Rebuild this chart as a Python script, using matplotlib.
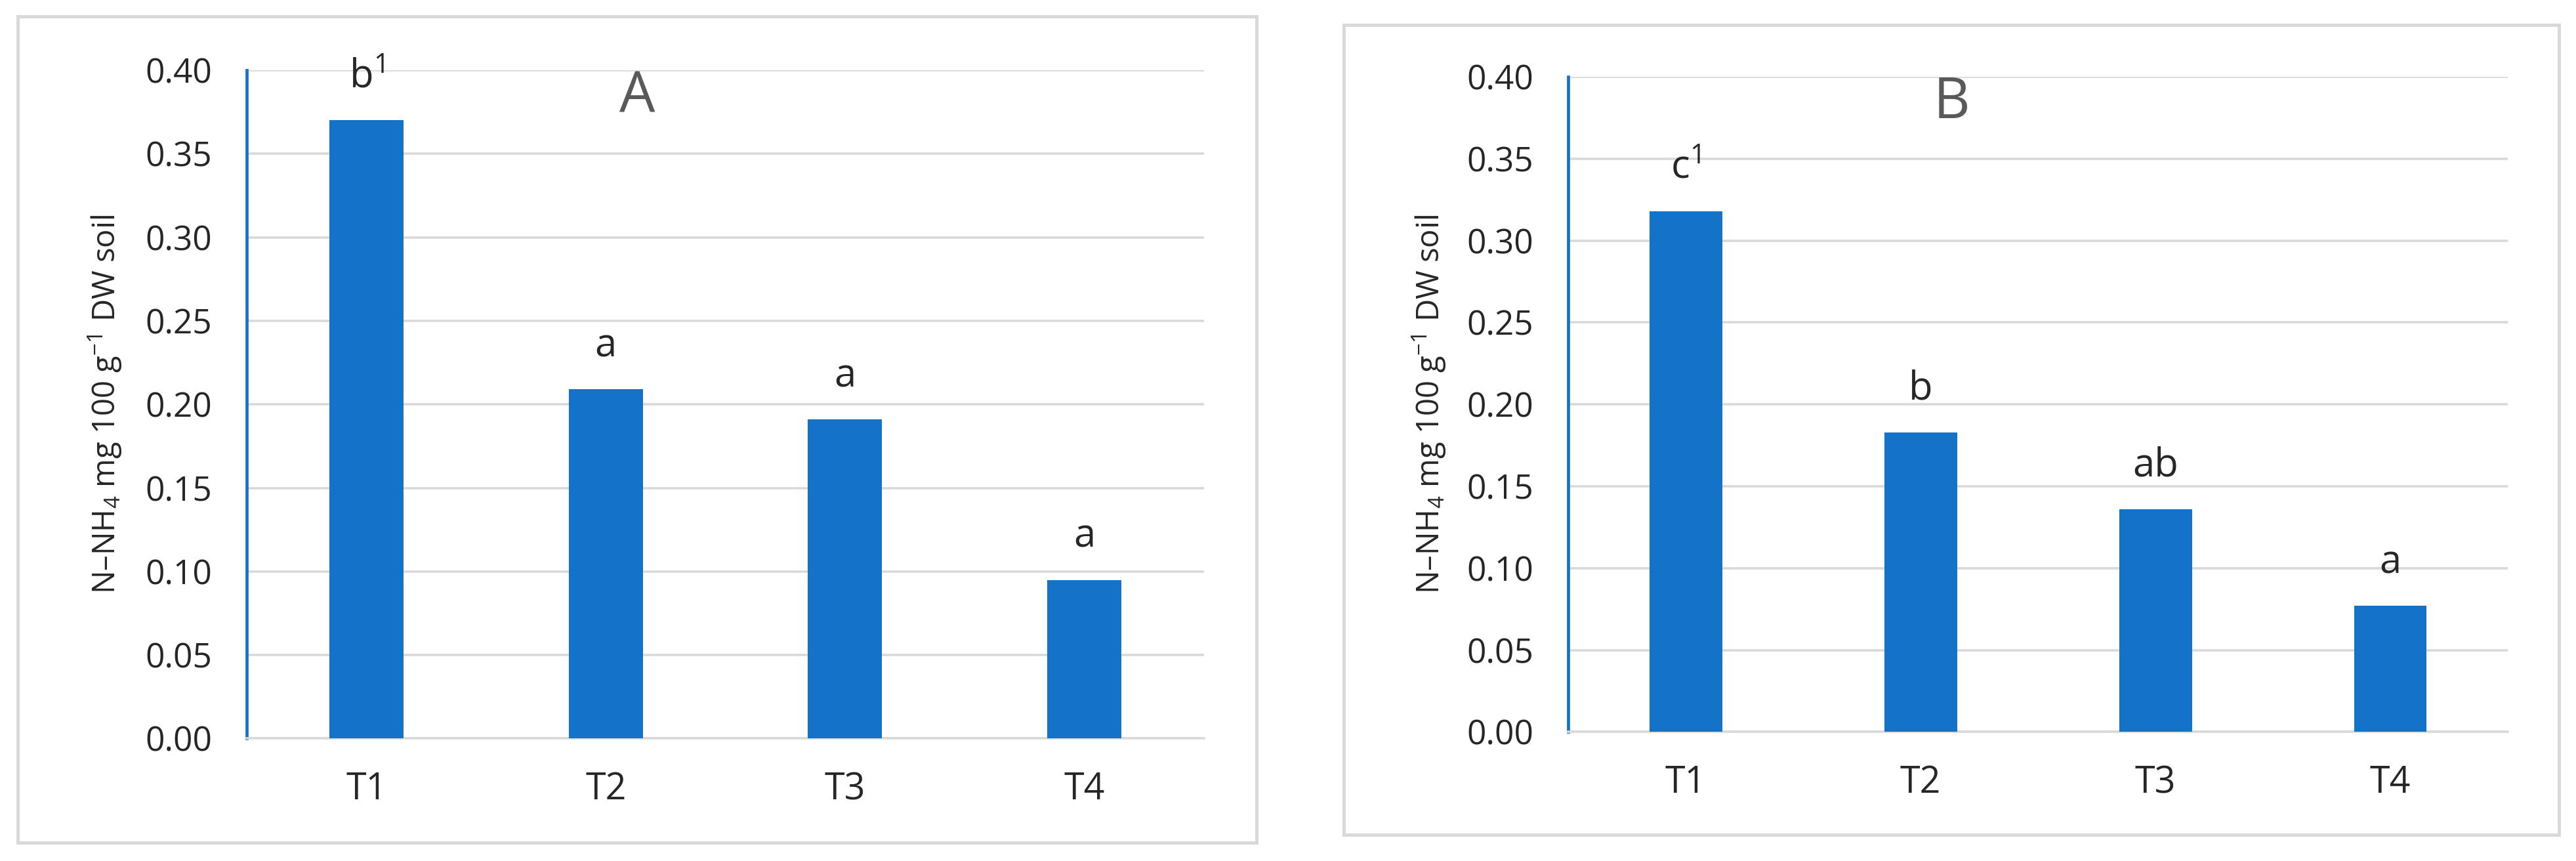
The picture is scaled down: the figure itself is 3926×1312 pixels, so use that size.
import matplotlib
matplotlib.use("Agg")
import matplotlib.pyplot as plt
from matplotlib.patches import Rectangle

# Data
treatments = ["T1", "T2", "T3", "T4"]
values_a = [0.370, 0.209, 0.191, 0.095]
values_b = [0.318, 0.183, 0.136, 0.077]
letters_a = ["b$^1$", "a", "a", "a"]
letters_b = ["c$^1$", "b", "ab", "a"]
y_ticks = [0.00, 0.05, 0.10, 0.15, 0.20, 0.25, 0.30, 0.35, 0.40]

plt.rcParams['font.family'] = ['Open Sans', 'DejaVu Sans']
plt.rcParams['mathtext.fontset'] = 'custom'
plt.rcParams['mathtext.rm'] = 'Open Sans'
plt.rcParams['mathtext.default'] = 'regular'

BAR_COLOR = "#1572C9"
GRID_COLOR = "#D9D9D9"
TEXT_COLOR = "#262626"
Y_LABEL = "N\u2013NH$_4$ mg 100 g$^{-1}$ DW soil"


def draw_panel(fig, rect, values, letters, panel_name, frame):
    # light grey frame around the whole panel, like the Excel chart area
    fig.patches.append(Rectangle((frame[0], frame[1]), frame[2], frame[3],
                                 transform=fig.transFigure, fill=False,
                                 edgecolor=GRID_COLOR, linewidth=3.6))

    ax = fig.add_axes(rect)
    x = range(len(treatments))
    ax.bar(x, values, width=0.31, color=BAR_COLOR, zorder=3)

    ax.set_xlim(-0.5, len(treatments) - 0.5)
    ax.set_ylim(0, 0.40)
    ax.set_yticks(y_ticks)
    ax.set_yticklabels([f"{t:.2f}" for t in y_ticks])
    ax.set_xticks(list(x))
    ax.set_xticklabels(treatments)

    ax.grid(axis='y', color=GRID_COLOR, linewidth=2.6, zorder=0)
    ax.set_axisbelow(True)
    for side in ['top', 'right']:
        ax.spines[side].set_visible(False)
    ax.spines['left'].set_color(BAR_COLOR)
    ax.spines['left'].set_linewidth(3.4)
    ax.spines['bottom'].set_color(GRID_COLOR)
    ax.spines['bottom'].set_linewidth(2.6)

    ax.tick_params(axis='y', length=0, pad=38, labelsize=37, labelcolor=TEXT_COLOR)
    ax.tick_params(axis='x', length=0, pad=36, labelsize=40, labelcolor=TEXT_COLOR)

    # significance letters above the bars
    for i, (v, lab) in enumerate(zip(values, letters)):
        ax.annotate(lab, (i, v), xytext=(0, 36), textcoords='offset points',
                    ha='center', va='baseline', fontsize=43, color=TEXT_COLOR)

    ax.text(0.408, 0.959, panel_name, transform=ax.transAxes, ha='center',
            va='center', fontsize=62, color="#595959")
    ax.text(-0.148, 0.5, Y_LABEL, transform=ax.transAxes, rotation=90,
            ha='center', va='center', fontsize=34, color=TEXT_COLOR)
    return ax


fig = plt.figure(figsize=(39.26, 13.12), dpi=100)
draw_panel(fig, [0.0958, 0.1422, 0.3716, 0.7762], values_a, letters_a, "A",
           (0.0069, 0.0213, 0.4809, 0.9596))
draw_panel(fig, [0.6088, 0.1498, 0.3647, 0.7610], values_b, letters_b, "B",
           (0.5216, 0.0305, 0.4717, 0.9405))

fig.savefig("out.png", dpi=100)
